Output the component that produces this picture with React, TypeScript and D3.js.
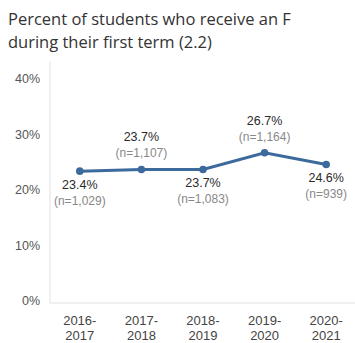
import React from "react";
import * as d3 from "d3";

const categories = ["2016-2017", "2017-2018", "2018-2019", "2019-2020", "2020-2021"];
const values = [23.4, 23.7, 23.7, 26.7, 24.6];
const counts = ["1,029", "1,107", "1,083", "1,164", "939"];
const labelPos = ["below", "above", "below", "above", "below"];
const yTicks = [0, 10, 20, 30, 40];
const titleLines = ["Percent of students who receive an F", "during their first term (2.2)"];

export default function App() {
  const W = 355, H = 343;
  const left = 50, right = 357, top = 79, bottom = 301;
  const x = d3.scaleBand<string>().domain(categories).range([left - 1, right]);
  const y = d3.scaleLinear().domain([0, 40]).range([bottom, top]);
  const cx = (c: string) => (x(c) as number) + x.bandwidth() / 2;
  const line = d3.line<number>().x((_, i) => cx(categories[i])).y((v) => y(v));
  const titleFont = "'Open Sans', Arial, sans-serif";
  const font = "'Liberation Sans', Arial, sans-serif";
  return (
    <svg width={W} height={H} style={{ position: "absolute", left: 0, top: 0, background: "#fff" }} fontFamily={font}>
      {titleLines.map((t, i) => (
        <text key={i} x={8} y={25 + i * 23} fontSize={16.5} fill="#333" fontFamily={titleFont}>{t}</text>
      ))}
      <line x1={left} x2={left} y1={62} y2={303} stroke="#e2e2e2" strokeWidth={1} />
      <line x1={left} x2={W} y1={303} y2={303} stroke="#e2e2e2" strokeWidth={1} />
      {yTicks.map((t) => (
        <text key={t} x={40} y={y(t) + 4} textAnchor="end" fontSize={12.5} fill="#555">{t}%</text>
      ))}
      {categories.map((c) => {
        const [a, b] = c.split("-");
        return (
          <text key={c} textAnchor="middle" fontSize={13} fill="#444">
            <tspan x={cx(c)} y={325}>{a}-</tspan>
            <tspan x={cx(c)} y={340}>{b}</tspan>
          </text>
        );
      })}
      <path d={line(values) || ""} fill="none" stroke="#3d6a9c" strokeWidth={3} />
      {values.map((v, i) => (
        <circle key={i} cx={cx(categories[i])} cy={y(v)} r={3.8} fill="#3d6a9c" />
      ))}
      {values.map((v, i) => {
        const px = cx(categories[i]);
        const py = y(v);
        const above = labelPos[i] === "above";
        const y1 = above ? py - 28 : py + 18;
        const y2 = above ? py - 12 : py + 34;
        return (
          <g key={"l" + i}>
            <text x={px} y={y1} textAnchor="middle" fontSize={12.5} fill="#2a2a2a">{v.toFixed(1)}%</text>
            <text x={px} y={y2} textAnchor="middle" fontSize={12} fill="#888">(n={counts[i]})</text>
          </g>
        );
      })}
    </svg>
  );
}
